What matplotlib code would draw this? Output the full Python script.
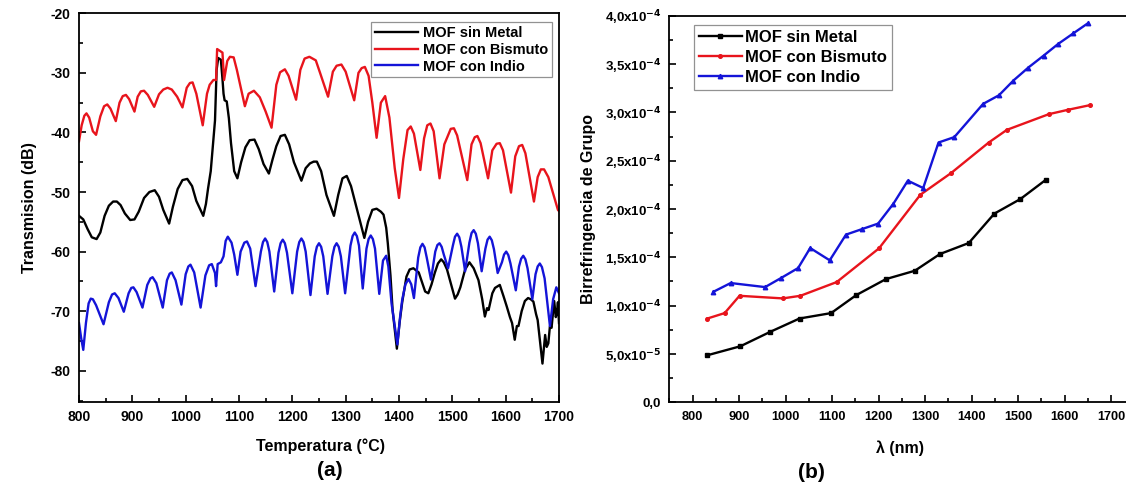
import matplotlib
matplotlib.use("Agg")
import matplotlib.pyplot as plt
from matplotlib.ticker import MultipleLocator, FixedLocator, FixedFormatter

plt.rcParams['font.family'] = ['Liberation Sans', 'DejaVu Sans']
plt.rcParams['font.weight'] = 'bold'
plt.rcParams['mathtext.default'] = 'bf'
plt.rcParams['axes.unicode_minus'] = False

# ---------------- (a) transmission spectra ----------------
temp_sin = [800, 808, 816, 824, 833, 840, 848, 856, 864, 871, 878, 886, 896, 904,
            912, 922, 932, 942, 950, 958, 969, 976, 985, 994, 1003, 1012, 1020, 1033,
            1038, 1042, 1047, 1052, 1055, 1058, 1061, 1066, 1069, 1071, 1073, 1077,
            1081, 1085, 1091, 1097, 1104, 1112, 1120, 1129, 1137, 1146, 1156, 1163,
            1170, 1178, 1186, 1194, 1203, 1217, 1225, 1233, 1240, 1246, 1254, 1264,
            1278, 1286, 1294, 1302, 1310, 1320, 1335, 1342, 1350, 1358, 1366, 1371,
            1376, 1379, 1384, 1388, 1396, 1401, 1406, 1414, 1420, 1427, 1437, 1449,
            1455, 1461, 1467, 1473, 1479, 1484, 1490, 1505, 1510, 1515, 1524, 1532,
            1540, 1549, 1556, 1561, 1565, 1568, 1575, 1580, 1589, 1596, 1602, 1608,
            1612, 1617, 1621, 1624, 1630, 1636, 1642, 1647, 1652, 1657, 1660, 1664,
            1669, 1672, 1674, 1677, 1680, 1683, 1686, 1691, 1694, 1696, 1698, 1700]
db_sin = [-54.0, -54.6, -56.2, -57.6, -57.9, -56.8, -54.0, -52.3, -51.6, -51.6,
          -52.2, -53.6, -54.7, -54.6, -53.3, -51.0, -50.0, -49.7, -50.8, -53.0,
          -55.3, -52.5, -49.5, -48.0, -47.8, -49.0, -51.5, -54.0, -52.0, -49.4,
          -46.5, -41.3, -38.0, -29.5, -27.5, -27.8, -31.0, -33.5, -34.6, -34.8,
          -37.6, -41.8, -46.5, -47.7, -45.0, -42.5, -41.3, -41.2, -42.8, -45.3,
          -46.9, -44.5, -42.3, -40.6, -40.4, -42.0, -45.0, -48.1, -46.0, -45.2,
          -44.9, -44.9, -46.5, -50.5, -54.0, -50.5, -47.7, -47.3, -49.0, -52.5,
          -57.7, -55.0, -53.0, -52.8, -53.3, -53.8, -56.0, -58.6, -64.0, -69.8,
          -76.3, -72.0, -68.5, -64.2, -63.0, -62.8, -63.5, -66.7, -67.0, -65.5,
          -63.6, -62.0, -61.3, -61.8, -63.0, -67.9, -67.2, -66.0, -63.0, -61.8,
          -62.8, -64.8, -68.0, -70.9, -69.5, -69.8, -67.0, -66.1, -65.6, -67.5,
          -69.2, -71.0, -72.0, -74.8, -72.5, -72.5, -70.0, -68.3, -67.8, -68.0,
          -68.4, -70.5, -71.5, -74.8, -78.8, -76.0, -74.0, -76.0, -75.4, -72.5,
          -72.8, -68.3, -71.0, -70.3, -68.5, -72.0]

temp_bi = [800, 805, 810, 814, 819, 826, 832, 840, 847, 853, 859, 869, 876, 882,
           888, 894, 904, 910, 916, 922, 929, 941, 950, 958, 966, 974, 984, 994,
           1002, 1008, 1013, 1020, 1032, 1040, 1045, 1052, 1057, 1059, 1069, 1072,
           1078, 1083, 1090, 1096, 1111, 1118, 1128, 1139, 1150, 1161, 1170, 1177,
           1186, 1193, 1207, 1215, 1223, 1232, 1244, 1252, 1267, 1276, 1283, 1292,
           1300, 1316, 1324, 1330, 1336, 1343, 1350, 1358, 1366, 1374, 1382, 1392,
           1400, 1408, 1416, 1422, 1428, 1440, 1447, 1453, 1459, 1465, 1476, 1485,
           1497, 1503, 1509, 1528, 1536, 1542, 1547, 1553, 1567, 1575, 1583, 1589,
           1595, 1610, 1618, 1625, 1631, 1637, 1653, 1660, 1666, 1672, 1680, 1698,
           1700]
db_bi = [-41.5, -38.8, -37.2, -36.8, -37.5, -39.8, -40.4, -37.3, -35.6, -35.3,
         -36.0, -38.1, -35.0, -33.9, -33.7, -34.4, -36.5, -34.0, -33.1, -33.0,
         -33.7, -35.7, -33.6, -32.8, -32.5, -32.8, -34.0, -35.8, -32.5, -31.7,
         -31.6, -33.5, -38.8, -33.5, -32.0, -31.2, -31.2, -26.0, -26.6, -31.2,
         -28.0, -27.3, -27.4, -29.5, -35.6, -33.5, -33.0, -34.1, -36.5, -39.2,
         -32.0, -29.9, -29.4, -30.5, -34.5, -29.5, -27.6, -27.3, -27.9, -30.0,
         -34.0, -29.8, -28.8, -28.6, -29.8, -34.6, -30.0, -29.2, -29.0, -30.5,
         -35.0, -40.9, -35.0, -33.9, -37.5, -46.0, -51.0, -44.5, -39.6, -39.0,
         -40.2, -46.3, -41.0, -38.8, -38.5, -39.8, -47.7, -42.0, -39.4, -39.3,
         -40.5, -48.0, -42.0, -40.8, -40.6, -41.8, -47.7, -43.0, -41.9, -41.8,
         -43.0, -50.1, -44.0, -42.3, -42.1, -43.5, -51.6, -47.5, -46.2, -46.2,
         -47.5, -53.0, -53.2]

temp_in = [800, 804, 808, 813, 818, 822, 826, 832, 846, 856, 862, 867, 874, 884,
           893, 898, 902, 908, 919, 928, 934, 938, 945, 957, 965, 970, 974, 981,
           992, 1000, 1005, 1009, 1016, 1028, 1037, 1044, 1049, 1055, 1057, 1060,
           1066, 1071, 1075, 1079, 1086, 1091, 1097, 1103, 1110, 1115, 1121, 1131,
           1141, 1145, 1149, 1153, 1157, 1166, 1174, 1178, 1182, 1186, 1190, 1200,
           1209, 1213, 1217, 1221, 1225, 1234, 1242, 1246, 1250, 1254, 1258, 1266,
           1275, 1279, 1283, 1287, 1291, 1299, 1309, 1313, 1317, 1321, 1325, 1332,
           1339, 1343, 1347, 1351, 1355, 1363, 1370, 1376, 1380, 1386, 1397, 1402,
           1406, 1412, 1418, 1423, 1428, 1436, 1440, 1444, 1448, 1452, 1460, 1468,
           1472, 1476, 1480, 1484, 1492, 1501, 1505, 1509, 1513, 1517, 1524, 1532,
           1536, 1540, 1544, 1548, 1555, 1562, 1566, 1570, 1574, 1578, 1585, 1593,
           1597, 1601, 1605, 1609, 1619, 1625, 1629, 1633, 1637, 1641, 1650, 1656,
           1660, 1664, 1668, 1673, 1683, 1689, 1695, 1700]
db_in = [-72.0, -74.5, -76.5, -72.0, -68.7, -67.9, -68.0, -69.0, -72.2, -68.5,
         -67.2, -67.0, -67.8, -70.1, -67.0, -66.1, -66.0, -66.8, -69.4, -65.6,
         -64.5, -64.3, -65.3, -69.4, -64.8, -63.7, -63.5, -64.8, -68.9, -63.8,
         -62.5, -62.2, -63.5, -69.4, -64.0, -62.3, -62.1, -63.6, -65.8, -62.1,
         -61.8, -60.8, -58.2, -57.5, -58.5, -60.5, -63.9, -60.0, -58.5, -58.3,
         -59.5, -65.8, -60.0, -58.4, -57.8, -58.4, -60.0, -66.7, -60.2, -58.6,
         -58.0, -58.6, -60.2, -67.0, -60.0, -58.4, -57.8, -58.4, -60.0, -67.3,
         -60.8, -59.2, -58.6, -59.2, -60.8, -67.1, -60.8, -59.2, -58.6, -59.2,
         -60.8, -67.0, -59.0, -57.4, -56.8, -57.4, -59.0, -66.2, -59.5, -57.9,
         -57.3, -57.9, -59.5, -67.1, -61.5, -60.7, -62.5, -68.7, -75.6, -71.0,
         -68.1, -65.5, -64.6, -65.5, -67.8, -61.0, -59.3, -58.7, -59.3, -61.0,
         -64.7, -60.0, -58.9, -58.6, -59.2, -60.5, -62.8, -59.0, -57.5, -57.0,
         -57.6, -59.2, -63.3, -58.5, -56.9, -56.4, -57.0, -58.6, -63.3, -59.5,
         -58.0, -57.5, -58.1, -59.6, -63.6, -61.8, -60.5, -60.0, -60.6, -62.0,
         -66.5, -62.5, -61.2, -60.7, -61.3, -62.8, -68.0, -63.8, -62.5, -62.0,
         -62.6, -64.5, -72.5, -68.0, -66.0, -67.0]

# ---------------- (b) group birefringence (x1e-4) ----------------
lam_sin = [832, 903, 967, 1030, 1098, 1152, 1216, 1278, 1332, 1394, 1449, 1505, 1560]
bir_sin = [0.487, 0.580, 0.729, 0.867, 0.923, 1.109, 1.275, 1.361, 1.534, 1.648,
           1.952, 2.103, 2.303]

lam_bi = [832, 869, 901, 994, 1032, 1110, 1201, 1290, 1356, 1437, 1476, 1566, 1607,
          1654]
bir_bi = [0.867, 0.923, 1.102, 1.075, 1.102, 1.244, 1.593, 2.148, 2.372, 2.688,
          2.819, 2.981, 3.026, 3.074]

lam_in = [845, 882, 956, 990, 1027, 1053, 1095, 1130, 1165, 1199, 1232, 1263, 1296,
          1329, 1363, 1425, 1459, 1490, 1522, 1555, 1586, 1619, 1650]
bir_in = [1.144, 1.234, 1.192, 1.285, 1.389, 1.596, 1.469, 1.735, 1.793, 1.849,
          2.055, 2.293, 2.217, 2.688, 2.744, 3.088, 3.177, 3.329, 3.463, 3.587,
          3.707, 3.818, 3.921]

labels = ['MOF sin Metal', 'MOF con Bismuto', 'MOF con Indio']
c_black, c_red, c_blue = '#000000', '#e8141c', '#1414d8'

bir_ticks = [0.0, 0.5, 1.0, 1.5, 2.0, 2.5, 3.0, 3.5, 4.0]
bir_ticklabels = ['0,0', '5,0x10$^{-5}$', '1,0x10$^{-4}$', '1,5x10$^{-4}$',
                  '2,0x10$^{-4}$', '2,5x10$^{-4}$', '3,0x10$^{-4}$',
                  '3,5x10$^{-4}$', '4,0x10$^{-4}$']

W, H = 1126, 484
fig = plt.figure(figsize=(W / 100, H / 100), dpi=100)

def px_axes(x0, y0, x1, y1):
    return fig.add_axes([x0 / W, 1 - y1 / H, (x1 - x0) / W, (y1 - y0) / H])

def style(ax, fs):
    for s in ax.spines.values():
        s.set_linewidth(1.3)
    ax.tick_params(which='both', direction='in', width=1.2, labelsize=fs, pad=6)
    ax.tick_params(which='major', length=5)
    ax.tick_params(which='minor', length=3)
    for t in ax.get_xticklabels() + ax.get_yticklabels():
        t.set_fontweight('bold')

# Panel (a)
axa = px_axes(79, 13.3, 559, 401.7)
axa.plot(temp_sin, db_sin, color=c_black, lw=1.7, label=labels[0])
axa.plot(temp_bi, db_bi, color=c_red, lw=1.7, label=labels[1])
axa.plot(temp_in, db_in, color=c_blue, lw=1.7, label=labels[2])
axa.set_xlim(800, 1700)
axa.set_ylim(-85.2, -20)
axa.xaxis.set_major_locator(MultipleLocator(100))
axa.xaxis.set_minor_locator(MultipleLocator(50))
axa.yaxis.set_major_locator(MultipleLocator(10))
axa.yaxis.set_minor_locator(MultipleLocator(5))
style(axa, 10)
axa.set_ylabel('Transmision (dB)', fontsize=11.5, fontweight='bold', labelpad=10)
leg = axa.legend(loc='upper right', bbox_to_anchor=(0.991, 0.985),
                 prop={'weight': 'bold', 'size': 10.5}, frameon=True, fancybox=False,
                 handlelength=3.0, handletextpad=0.3, borderpad=0.25,
                 labelspacing=0.2, borderaxespad=0.2)
leg.get_frame().set_edgecolor('#777777')
leg.get_frame().set_linewidth(0.9)

# Panel (b)
axb = px_axes(669.3, 15.7, 1134.3, 402.3)
axb.plot(lam_sin, bir_sin, color=c_black, lw=1.7, marker='s', ms=2.6, label=labels[0])
axb.plot(lam_bi, bir_bi, color=c_red, lw=1.7, marker='o', ms=2.6, label=labels[1])
axb.plot(lam_in, bir_in, color=c_blue, lw=1.7, marker='^', ms=3.2, label=labels[2])
axb.set_xlim(750, 1750)
axb.set_ylim(0, 4.0)
axb.xaxis.set_major_locator(MultipleLocator(100))
axb.xaxis.set_minor_locator(MultipleLocator(50))
axb.yaxis.set_major_locator(FixedLocator(bir_ticks))
axb.yaxis.set_major_formatter(FixedFormatter(bir_ticklabels))
axb.yaxis.set_minor_locator(MultipleLocator(0.25))
style(axb, 9.5)
axb.tick_params(axis='x', labelsize=9.2)
axb.set_ylabel('Birrefringencia de Grupo', fontsize=11.5, fontweight='bold', labelpad=6)
legb = axb.legend(loc='upper left', bbox_to_anchor=(0.045, 0.985),
                  prop={'weight': 'bold', 'size': 12}, frameon=True, fancybox=False,
                  handlelength=2.6, handletextpad=0.2, borderpad=0.3,
                  labelspacing=0.3, borderaxespad=0.2)
legb.get_frame().set_edgecolor('#777777')
legb.get_frame().set_linewidth(0.9)

# Captions below the panels
fig.text(320 / W, 1 - 446 / H, 'Temperatura (°C)', ha='center', va='center',
         fontsize=11.5, fontweight='bold')
fig.text(330 / W, 1 - 471 / H, '(a)', ha='center', va='center',
         fontsize=15, fontweight='bold')
fig.text(900 / W, 1 - 448 / H, 'λ (nm)', ha='center', va='center',
         fontsize=11.5, fontweight='bold')
fig.text(811 / W, 1 - 473 / H, '(b)', ha='center', va='center',
         fontsize=15, fontweight='bold')

fig.savefig('out.png', dpi=100)
